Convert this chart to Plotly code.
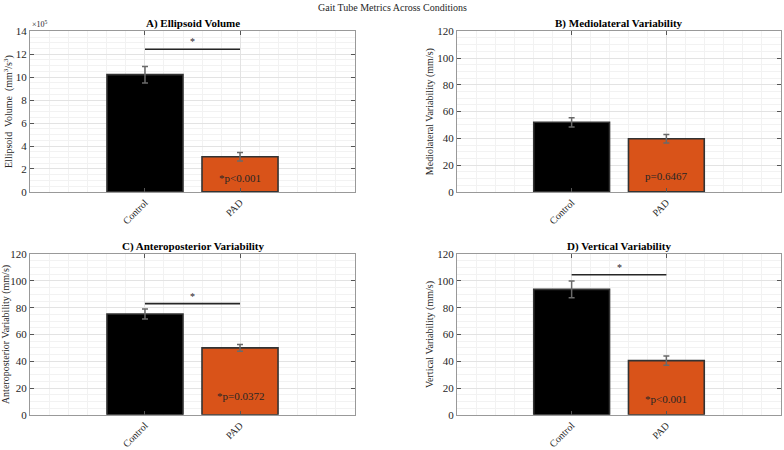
import plotly.graph_objects as go

categories = ["Control", "PAD"]
cat_pos = [1, 2]

titles = ["A) Ellipsoid Volume", "B) Mediolateral Variability",
          "C) Anteroposterior Variability", "D) Vertical Variability"]
ytitles = ["Ellipsoid  Volume  (mm<sup>3</sup>/s<sup>3</sup>)", "Mediolateral Variability (mm/s)",
           "Anteroposterior Variability (mm/s)", "Vertical Variability (mm/s)"]

vol_mean = [10.22e5, 3.07e5]
vol_err = [0.72e5, 0.37e5]
ml_mean = [52.0, 39.7]
ml_err = [3.5, 3.2]
ap_mean = [75.3, 50.0]
ap_err = [3.7, 2.6]
vt_mean = [93.7, 40.5]
vt_err = [6.3, 3.4]

means = [vol_mean, ml_mean, ap_mean, vt_mean]
errs = [vol_err, ml_err, ap_err, vt_err]
p_labels = ["*p<0.001", "p=0.6467", "*p=0.0372", "*p<0.001"]
p_label_y = [1.25e5, 11.8, 14.0, 12.0]
sig_y = [12.44e5, None, 83.1, 104.7]
star_offset = [0.7e5, None, 5.4, 5.6]
y_max = [14e5, 120, 120, 120]
y_major = [2e5, 20, 20, 20]
y_minor = [0.5e5, 5, 5, 5]

bar_colors = ["#000000", "#D95319"]
FONT = "Liberation Serif"

xdomains = [[30/784, 355/784], [457/784, 781/784], [30/784, 355/784], [457/784, 781/784]]
ydomains = [[1-191/450, 1-26/450], [1-191/450, 1-26/450], [1-420/450, 1-255/450], [1-420/450, 1-255/450]]

fig = go.Figure()
layout = dict(
    width=784, height=450, margin=dict(l=0, r=0, t=0, b=0),
    plot_bgcolor="white", paper_bgcolor="white", showlegend=False,
    font=dict(family=FONT, color="#262626"),
)
annotations = []

for i in range(4):
    xa = "x" if i == 0 else f"x{i+1}"
    ya = "y" if i == 0 else f"y{i+1}"
    xkey = "xaxis" if i == 0 else f"xaxis{i+1}"
    ykey = "yaxis" if i == 0 else f"yaxis{i+1}"
    fig.add_trace(go.Bar(
        x=cat_pos, y=means[i], width=0.8, xaxis=xa, yaxis=ya,
        marker=dict(color=bar_colors, line=dict(color="#333333", width=1.6)),
        error_y=dict(type="data", array=errs[i], color="#6a6a6a", thickness=1.5, width=3),
    ))
    if sig_y[i] is not None:
        fig.add_trace(go.Scatter(
            x=cat_pos, y=[sig_y[i], sig_y[i]], mode="lines", xaxis=xa, yaxis=ya,
            line=dict(color="#262626", width=1.6), hoverinfo="skip",
        ))
        annotations.append(dict(x=1.5, y=sig_y[i] + star_offset[i], xref=xa, yref=ya,
                                xanchor="center", yanchor="middle",
                                text="*", showarrow=False, font=dict(size=10, color="#262626")))
    annotations.append(dict(x=cat_pos[1], y=p_label_y[i], xref=xa, yref=ya, text=p_labels[i],
                            xanchor="center", yanchor="middle",
                            showarrow=False, font=dict(size=11, color="#262626")))
    annotations.append(dict(x=sum(xdomains[i]) / 2, y=ydomains[i][1], xref="paper", yref="paper",
                            text=f"<b>{titles[i]}</b>", showarrow=False, xanchor="center", yanchor="bottom",
                            font=dict(size=11, color="#000000"), yshift=-1))
    if i == 0:
        tvals = [k * y_major[0] for k in range(8)]
        ttext = [str(2 * k) for k in range(8)]
    else:
        tvals = [k * 20 for k in range(7)]
        ttext = [str(v) for v in tvals]
    layout[xkey] = dict(
        domain=xdomains[i], anchor=ya, range=[-0.21, 3.21],
        tickmode="array", tickvals=cat_pos, ticktext=categories, tickangle=-45,
        ticks="inside", ticklen=4, tickcolor="#555555",
        showline=True, mirror="ticks", linecolor="#999999", linewidth=1,
        showgrid=True, gridcolor="#e3e3e3", gridwidth=1, zeroline=False,
        tickfont=dict(size=10, family=FONT, color="#262626"),
        minor=dict(dtick=0.2, tick0=0, showgrid=True, gridcolor="#f2f2f2", ticks=""),
    )
    layout[ykey] = dict(
        domain=ydomains[i], anchor=xa, range=[0, y_max[i]],
        tickmode="array", tickvals=tvals, ticktext=ttext,
        ticks="inside", ticklen=4, tickcolor="#555555",
        showline=True, mirror="ticks", linecolor="#999999", linewidth=1,
        showgrid=True, gridcolor="#e3e3e3", gridwidth=1, zeroline=False,
        tickfont=dict(size=11, family=FONT, color="#262626"),
        minor=dict(dtick=y_minor[i], tick0=0, showgrid=True, gridcolor="#f2f2f2", ticks=""),
        title=dict(text=ytitles[i], font=dict(size=10, family=FONT, color="#262626"), standoff=1),
    )

annotations.append(dict(x=30/784, y=1-26/450, xref="paper", yref="paper", text="×10<sup>5</sup>",
                        showarrow=False, xanchor="left", yanchor="bottom",
                        font=dict(size=8, color="#262626")))
annotations.append(dict(x=0.5, y=1, xref="paper", yref="paper", text="Gait Tube Metrics Across Conditions",
                        showarrow=False, xanchor="center", yanchor="top", yshift=6,
                        font=dict(size=10, color="#262626")))
layout["annotations"] = annotations
fig.update_layout(**layout)
fig.write_html("out.html")
